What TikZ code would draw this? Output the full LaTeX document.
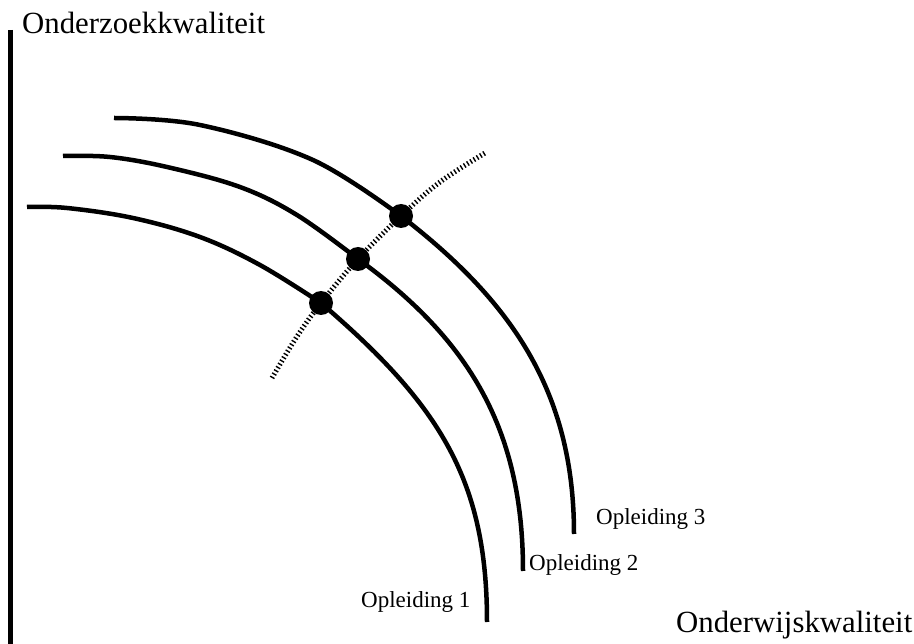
\documentclass[tikz,border=0pt]{standalone}
\usepackage{fontspec}
\setmainfont{Liberation Serif}
\begin{document}
\begin{tikzpicture}[x=1pt,y=-1pt,
  curve/.style={line width=4.5pt, line cap=butt, line join=round},
  axisline/.style={line width=5pt},
  hatch/.style={line width=5pt, dash pattern=on 1.4pt off 2.4pt},
  dotnode/.style={circle, fill=black, inner sep=0pt, minimum size=24pt},
  biglabel/.style={anchor=base west, inner sep=0pt, font=\fontsize{30.8}{34}\selectfont},
  smalllabel/.style={anchor=base west, inner sep=0pt, font=\fontsize{23}{26}\selectfont}]
\useasboundingbox (0,0) rectangle (914,644);
% axis
\coordinate (axtop) at (10.3,30);
\coordinate (axbot) at (10.3,644);
\draw[axisline] (axtop) -- (axbot);
% hatched curve
\draw[hatch] plot[smooth, tension=0.6] coordinates {(272,378) (296,338) (321,303) (358,259) (401,216) (440,182) (485,153)};
% dots positions
\coordinate (p1) at (321,303);
\coordinate (p2) at (358,259);
\coordinate (p3) at (401,216);
\coordinate (e1) at (487,622);
\coordinate (e2) at (523,571);
\coordinate (e3) at (574,534);
% curves
\draw[curve] plot[smooth, tension=0.6] coordinates {(27,207) (67,208) (133,218) (200,237) (260,265) (321,303)}
  .. controls (440,405) and (487,480) .. (e1);
\draw[curve] plot[smooth, tension=0.6] coordinates {(63,156) (110,157) (167,167) (240,187) (297,215) (358,259)}
  .. controls (470,340) and (523,430) .. (e2);
\draw[curve] plot[smooth, tension=0.6] coordinates {(114,118) (200,125) (313,160) (401,216)}
  .. controls (510,300) and (574,390) .. (e3);
% dots
\node[dotnode] (d1) at (p1) {};
\node[dotnode] (d2) at (p2) {};
\node[dotnode] (d3) at (p3) {};
% labels
\node[biglabel] (ylab) at (22,34) {Onderzoekkwaliteit};
\node[biglabel] (xlab) at (676,632) {Onderwijskwaliteit};
\node[smalllabel] (op1) at (361,607) {Opleiding 1};
\node[smalllabel] (op2) at (529,570) {Opleiding 2};
\node[smalllabel] (op3) at (596,525) {Opleiding 3};
\end{tikzpicture}
\end{document}
